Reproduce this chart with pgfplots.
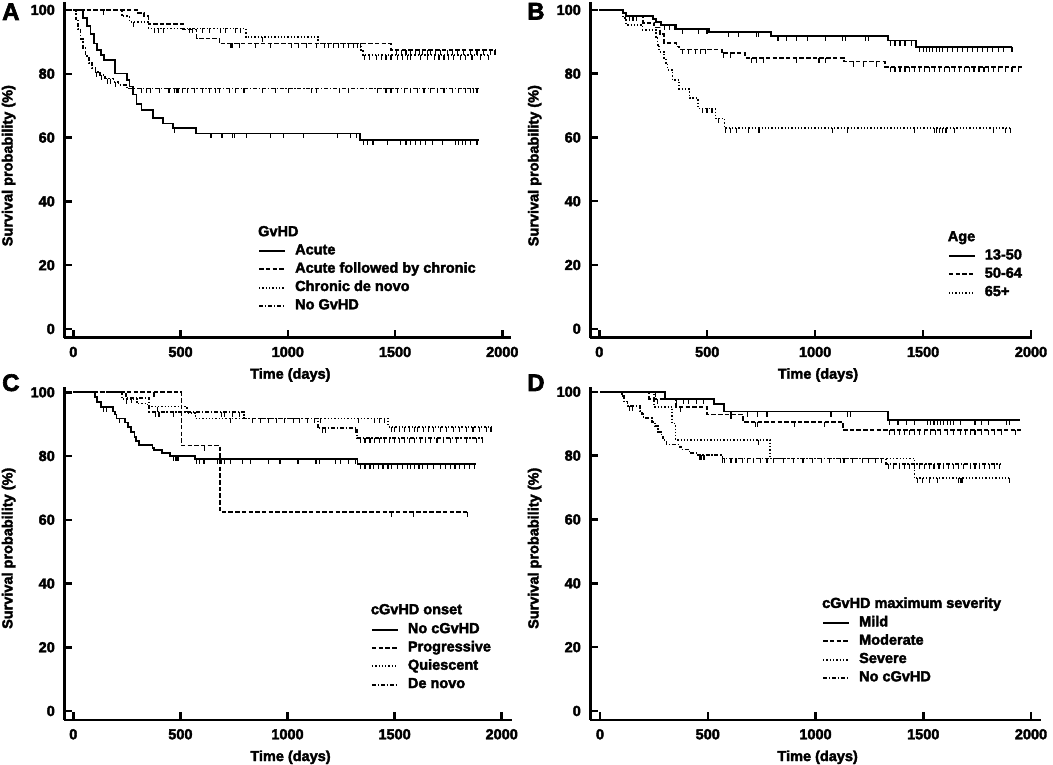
\documentclass[border=0pt]{standalone}
\usepackage{fontspec}
\setmainfont{Liberation Sans}[BoldFeatures={FakeBold=2.6}]
\usepackage{pgfplots}
\pgfplotsset{compat=1.18}
\pgfdeclareplotmark{cens}{\pgfpathmoveto{\pgfpoint{0pt}{0pt}}\pgfpathlineto{\pgfpoint{0pt}{-5pt}}\pgfusepathqstroke}
\newcommand\lf{\fontsize{14.5}{17}\selectfont\bfseries}
\pgfplotsset{
  km/.style={
    scale only axis, clip=false,
    axis x line=bottom, axis y line=left,
    axis line style={line width=2.8pt,-},
    tick align=inside, major tick length=8pt,
    every tick/.style={line width=2.5pt,black},
    xtick={0,500,1000,1500,2000}, ytick={0,20,40,60,80,100},
    /pgf/number format/assume math mode=true,
    /pgf/number format/1000 sep={},
    ticklabel style={font=\lf},
    xticklabel style={anchor=center,inner sep=0pt,yshift=-14.3pt},
    yticklabel style={anchor=east,inner sep=0pt,xshift=-9.3pt},
    label style={font=\lf},
    xlabel={Time (days)}, ylabel={Survival probability (\%)},
    legend cell align=left,
    legend style={draw=none,fill=none,font=\lf,anchor=north west,inner sep=0pt,
      row sep=4.8pt,nodes={inner sep=0pt,text height=10.5pt,text depth=3pt},
      /tikz/every odd column/.append style={column sep=9pt}},
    legend image code/.code={\draw[##1,line width=2pt] (0pt,-0.5pt) -- (26pt,-0.5pt);},
  },
  ks/.style={black,line width=1.8pt,const plot mark left},
  kd/.style={black,line width=1.7pt,dash pattern=on 4.5pt off 2.2pt,const plot mark left},
  kt/.style={black,line width=1.7pt,dash pattern=on 1.3pt off 2pt,const plot mark left},
  kdd/.style={black,line width=1.7pt,dash pattern=on 4pt off 1.8pt on 1.3pt off 1.8pt,const plot mark left},
  cm/.style={black,only marks,mark=cens,mark options={solid,line width=1.1pt},forget plot},
}
\begin{document}
\begin{tikzpicture}
\useasboundingbox (0,0) rectangle (1053pt,765pt);
\node[anchor=base west,font=\fontsize{24}{26}\selectfont\bfseries,inner sep=0pt] at (2pt,745pt) {A};
\node[anchor=base west,font=\fontsize{24}{26}\selectfont\bfseries,inner sep=0pt] at (527pt,745.5pt) {B};
\node[anchor=base west,font=\fontsize{24}{26}\selectfont\bfseries,inner sep=0pt] at (2pt,374pt) {C};
\node[anchor=base west,font=\fontsize{24}{26}\selectfont\bfseries,inner sep=0pt] at (527pt,374pt) {D};

% ---------------- A ----------------
\begin{axis}[km, at={(64.3pt,427.3pt)}, anchor=south west, width=446.7pt, height=335.7pt,
  xmin=-42, xmax=2040.6, ymin=-2.73, ymax=102.5,
  xlabel style={at={(axis description cs:0.506,0)},anchor=center,yshift=-37.3pt},
  ylabel style={at={(axis description cs:-0.1245,0.5124)},anchor=center},
  legend style={at={(axis description cs:0.4336,0.280)}}]
\addplot[ks] coordinates {(0,100)(46,97.5)(65,95)(80,92.5)(95,89.5)(110,87.5)(130,86)(142,84.3)(196,80.1)(250,78)(262,76)(280,73.5)(295,70.5)(318,68.6)(372,66.2)(418,64.4)(465,62.9)(573,61.3)(1335,59.2)(1890,59.2)};
\addlegendentry{Acute}
\addplot[kd] coordinates {(0,100)(296,99)(330,98)(350,95.6)(511,93.9)(575,91.1)(681,89.5)(1480,87.4)(1970,87.4)};
\addlegendentry{Acute followed by chronic}
\addplot[kt] coordinates {(0,100)(226,98)(262,96.3)(350,94.2)(804,91.6)(1140,89.5)(1340,87.4)(1350,85.9)(1936,85.9)};
\addlegendentry{Chronic de novo}
\addplot[kdd] coordinates {(0,100)(11,97)(22,94)(34,91)(46,88)(57,85.5)(72,83.3)(88,81.7)(103,80.6)(126,79.6)(149,78.5)(188,77.5)(211,76.4)(249,75.4)(1890,75.4)};
\addlegendentry{No GvHD}
\addplot[cm] coordinates {(473,62.9)(642,61.3)(693,61.3)(742,61.3)(750,61.3)(808,61.3)(919,61.3)(981,61.3)(1073,61.3)(1232,61.3)(1293,61.3)(1320,61.3)(1351,59.2)(1371,59.2)(1397,59.2)(1466,59.2)(1527,59.2)(1551,59.2)(1574,59.2)(1597,59.2)(1620,59.2)(1643,59.2)(1674,59.2)(1720,59.2)(1782,59.2)(1797,59.2)(1813,59.2)(1828,59.2)(1851,59.2)(1882,59.2)};
\addplot[cm] coordinates {(142,100)(735,89.5)(742,89.5)(773,89.5)(850,89.5)(919,89.5)(1019,89.5)(1050,89.5)(1089,89.5)(1135,89.5)(1340,89.5)(1505,87.4)(1528,87.4)(1551,87.4)(1574,87.4)(1597,87.4)(1613,87.4)(1628,87.4)(1651,87.4)(1666,87.4)(1690,87.4)(1713,87.4)(1743,87.4)(1766,87.4)(1790,87.4)(1820,87.4)(1851,87.4)(1882,87.4)(1913,87.4)(1943,87.4)(1966,87.4)};
\addplot[cm] coordinates {(280,96.3)(380,94.2)(396,94.2)(419,94.2)(542,94.2)(557,94.2)(604,94.2)(634,94.2)(688,94.2)(711,94.2)(758,94.2)(781,94.2)(881,91.6)(1173,89.5)(1189,89.5)(1212,89.5)(1235,89.5)(1258,89.5)(1281,89.5)(1305,89.5)(1327,89.5)(1358,85.9)(1381,85.9)(1412,85.9)(1435,85.9)(1458,85.9)(1481,85.9)(1512,85.9)(1535,85.9)(1558,85.9)(1574,85.9)(1620,85.9)(1651,85.9)(1682,85.9)(1705,85.9)(1728,85.9)(1751,85.9)(1774,85.9)(1805,85.9)(1828,85.9)(1859,85.9)(1897,85.9)(1936,85.9)};
\addplot[cm] coordinates {(110,80.6)(130,79.6)(160,78.5)(172,78.5)(195,77.5)(280,75.4)(319,75.4)(342,75.4)(360,75.4)(403,75.4)(446,75.4)(473,75.4)(480,75.4)(488,75.4)(511,75.4)(534,75.4)(565,75.4)(604,75.4)(634,75.4)(665,75.4)(681,75.4)(727,75.4)(758,75.4)(796,75.4)(881,75.4)(943,75.4)(1004,75.4)(1112,75.4)(1135,75.4)(1243,75.4)(1281,75.4)(1420,75.4)(1458,75.4)(1481,75.4)(1512,75.4)(1543,75.4)(1574,75.4)(1605,75.4)(1635,75.4)(1666,75.4)(1697,75.4)(1728,75.4)(1766,75.4)(1797,75.4)(1828,75.4)(1851,75.4)(1866,75.4)(1882,75.4)};
\node[anchor=base west,font=\lf,inner sep=0pt] at (axis description cs:0.4336,0.3024) {GvHD};
\end{axis}

% ---------------- B ----------------
\begin{axis}[km, at={(590.3pt,427.3pt)}, anchor=south west, width=441.7pt, height=335.7pt,
  xmin=-41.7, xmax=2004.6, ymin=-2.8, ymax=102.5,
  xlabel style={at={(axis description cs:0.5155,0)},anchor=center,yshift=-37.3pt},
  ylabel style={at={(axis description cs:-0.1259,0.5124)},anchor=center},
  legend style={at={(axis description cs:0.809,0.265)}}]
\addplot[ks] coordinates {(0,100)(110,99)(125,98.2)(247,97.1)(262,96.1)(286,95.3)(357,94)(507,93)(797,91.9)(1339,90.4)(1469,88.5)(1912,88.5)};
\addlegendentry{13-50}
\addplot[kd] coordinates {(0,100)(110,99)(125,98)(202,96)(255,94.5)(281,92.5)(301,89.7)(357,88.5)(370,87.6)(568,86.4)(675,85)(1133,83.8)(1324,82.2)(1958,82.2)};
\addlegendentry{50-64}
\addplot[kt] coordinates {(0,100)(110,97.5)(125,95.3)(200,93.7)(263,91.6)(270,89)(278,86.9)(300,84.9)(308,83.2)(316,81.2)(339,78)(370,75.1)(418,72.3)(457,69.1)(538,66)(580,62.9)(1904,62.9)};
\addlegendentry{65+}
\addplot[cm] coordinates {(140,98.2)(156,98.2)(171,98.2)(301,95.3)(324,95.3)(347,95.3)(385,94)(461,94)(499,94)(599,93)(644,93)(728,93)(736,93)(828,91.9)(866,91.9)(912,91.9)(965,91.9)(1049,91.9)(1125,91.9)(1141,91.9)(1232,91.9)(1248,91.9)(1347,90.4)(1370,90.4)(1393,90.4)(1416,90.4)(1446,90.4)(1484,88.5)(1500,88.5)(1515,88.5)(1530,88.5)(1545,88.5)(1561,88.5)(1576,88.5)(1591,88.5)(1614,88.5)(1637,88.5)(1660,88.5)(1683,88.5)(1706,88.5)(1729,88.5)(1751,88.5)(1774,88.5)(1797,88.5)(1820,88.5)(1851,88.5)(1874,88.5)(1912,88.5)};
\addplot[cm] coordinates {(385,87.6)(415,87.6)(446,87.6)(469,87.6)(492,87.6)(576,86.4)(606,86.4)(705,85)(728,85)(759,85)(912,85)(1018,85)(1049,85)(1179,83.8)(1225,83.8)(1286,83.8)(1347,82.2)(1370,82.2)(1393,82.2)(1416,82.2)(1438,82.2)(1461,82.2)(1484,82.2)(1507,82.2)(1530,82.2)(1553,82.2)(1576,82.2)(1599,82.2)(1622,82.2)(1645,82.2)(1668,82.2)(1690,82.2)(1713,82.2)(1736,82.2)(1759,82.2)(1782,82.2)(1805,82.2)(1828,82.2)(1851,82.2)(1881,82.2)(1912,82.2)(1942,82.2)};
\addplot[cm] coordinates {(476,69.1)(499,69.1)(522,69.1)(553,66)(583,62.9)(606,62.9)(637,62.9)(690,62.9)(736,62.9)(744,62.9)(1080,62.9)(1148,62.9)(1461,62.9)(1553,62.9)(1561,62.9)(1576,62.9)(1591,62.9)(1606,62.9)(1645,62.9)(1828,62.9)(1881,62.9)(1904,62.9)};
\node[anchor=base west,font=\lf,inner sep=0pt] at (axis description cs:0.809,0.2875) {Age};
\end{axis}

% ---------------- C ----------------
\begin{axis}[km, at={(64.3pt,45pt)}, anchor=south west, width=447.4pt, height=333pt,
  xmin=-42, xmax=2046.7, ymin=-2.82, ymax=101.66,
  xlabel style={at={(axis description cs:0.5056,0)},anchor=center,yshift=-37.3pt},
  ylabel style={at={(axis description cs:-0.1243,0.5156)},anchor=center},
  legend style={at={(axis description cs:0.685,0.293)}}]
\addplot[ks] coordinates {(0,100)(102,98.6)(110,97)(128,95.5)(186,94)(195,93)(202,91.8)(240,90.5)(255,89.2)(270,87.5)(286,85.9)(293,84.8)(308,83.5)(370,82.6)(377,81.9)(415,80.9)(453,80.1)(568,79.1)(1327,77.4)(1878,77.4)};
\addlegendentry{No cGvHD}
\addplot[kd] coordinates {(0,100)(505,83.3)(685,62.5)(1840,62.5)};
\addlegendentry{Progressive}
\addplot[kt] coordinates {(0,100)(226,98)(296,96.5)(347,95.5)(530,93.4)(570,91.8)(1469,89.2)(1958,89.2)};
\addlegendentry{Quiescent}
\addplot[kdd] coordinates {(0,100)(247,98.3)(355,93.9)(797,91.8)(1141,88.7)(1324,85.6)(1912,85.6)};
\addlegendentry{De novo}
\addplot[cm] coordinates {(140,95.5)(156,95.5)(217,91.8)(469,80.1)(476,80.1)(484,80.1)(492,80.1)(576,79.1)(591,79.1)(606,79.1)(614,79.1)(675,79.1)(690,79.1)(705,79.1)(736,79.1)(789,79.1)(828,79.1)(912,79.1)(965,79.1)(1049,79.1)(1133,79.1)(1148,79.1)(1225,79.1)(1248,79.1)(1286,79.1)(1316,79.1)(1339,77.4)(1362,77.4)(1385,77.4)(1400,77.4)(1423,77.4)(1446,77.4)(1469,77.4)(1484,77.4)(1515,77.4)(1538,77.4)(1561,77.4)(1576,77.4)(1591,77.4)(1614,77.4)(1629,77.4)(1652,77.4)(1683,77.4)(1713,77.4)(1736,77.4)(1759,77.4)(1782,77.4)(1805,77.4)(1828,77.4)(1851,77.4)(1874,77.4)};
\addplot[cm] coordinates {(377,100)(614,83.3)(1486,62.5)(1587,62.5)(1840,62.5)};
\addplot[cm] coordinates {(250,98)(392,95.5)(736,91.8)(835,91.8)(873,91.8)(912,91.8)(950,91.8)(988,91.8)(1026,91.8)(1057,91.8)(1095,91.8)(1125,91.8)(1156,91.8)(1332,91.8)(1408,91.8)(1431,91.8)(1454,91.8)(1484,89.2)(1500,89.2)(1522,89.2)(1545,89.2)(1568,89.2)(1591,89.2)(1606,89.2)(1637,89.2)(1660,89.2)(1683,89.2)(1713,89.2)(1744,89.2)(1774,89.2)(1805,89.2)(1835,89.2)(1866,89.2)(1897,89.2)(1927,89.2)(1950,89.2)};
\addplot[cm] coordinates {(270,98.3)(385,93.9)(400,93.9)(469,93.9)(690,93.9)(705,93.9)(744,93.9)(774,93.9)(1164,88.7)(1179,88.7)(1316,88.7)(1339,85.6)(1362,85.6)(1385,85.6)(1408,85.6)(1431,85.6)(1454,85.6)(1477,85.6)(1500,85.6)(1522,85.6)(1545,85.6)(1568,85.6)(1591,85.6)(1622,85.6)(1645,85.6)(1668,85.6)(1698,85.6)(1729,85.6)(1759,85.6)(1790,85.6)(1835,85.6)(1881,85.6)(1912,85.6)};
\node[anchor=base west,font=\lf,inner sep=0pt] at (axis description cs:0.685,0.3177) {cGvHD onset};
\end{axis}

% ---------------- D ----------------
\begin{axis}[km, at={(590.3pt,45pt)}, anchor=south west, width=450.7pt, height=333pt,
  xmin=-45, xmax=2046.4, ymin=-2.82, ymax=101.5,
  xlabel style={at={(axis description cs:0.5045,0)},anchor=center,yshift=-37.3pt},
  ylabel style={at={(axis description cs:-0.1234,0.5156)},anchor=center},
  legend style={at={(axis description cs:0.514,0.3132)}}]
\addplot[ks] coordinates {(0,100)(301,97.7)(530,96.2)(575,93.8)(1335,91.1)(1947,91.1)};
\addlegendentry{Mild}
\addplot[kd] coordinates {(0,100)(228,97.7)(353,95.3)(497,92.9)(664,90.6)(1128,88)(1955,88)};
\addlegendentry{Moderate}
\addplot[kt] coordinates {(0,100)(251,95.3)(335,90.1)(350,84.9)(790,79.1)(1459,72.9)(1900,72.9)};
\addlegendentry{Severe}
\addplot[kdd] coordinates {(0,100)(102,98.6)(110,97)(128,95.5)(186,94)(195,93)(202,91.8)(240,90.5)(255,89.2)(270,87.5)(286,85.9)(293,84.8)(308,83.5)(370,82.6)(377,81.9)(415,80.9)(453,80.1)(568,79.1)(1327,77.4)(1862,77.4)};
\addlegendentry{No cGvHD}
\addplot[cm] coordinates {(258,100)(357,97.7)(388,97.7)(410,97.7)(448,97.7)(479,97.7)(608,93.8)(684,93.8)(730,93.8)(775,93.8)(1072,93.8)(1148,93.8)(1163,93.8)(1345,91.1)(1383,91.1)(1421,91.1)(1459,91.1)(1520,91.1)(1535,91.1)(1550,91.1)(1566,91.1)(1581,91.1)(1596,91.1)(1611,91.1)(1626,91.1)(1642,91.1)(1672,91.1)(1740,91.1)(1771,91.1)(1801,91.1)(1885,91.1)(1900,91.1)};
\addplot[cm] coordinates {(266,97.7)(372,95.3)(608,92.9)(722,90.6)(730,90.6)(904,90.6)(1041,90.6)(1345,88)(1368,88)(1391,88)(1414,88)(1436,88)(1459,88)(1482,88)(1505,88)(1535,88)(1558,88)(1581,88)(1611,88)(1642,88)(1672,88)(1695,88)(1718,88)(1740,88)(1771,88)(1801,88)(1832,88)(1862,88)(1930,88)};
\addplot[cm] coordinates {(737,84.9)(1474,72.9)(1497,72.9)(1528,72.9)(1566,72.9)(1664,72.9)(1672,72.9)(1680,72.9)(1900,72.9)};
\addplot[cm] coordinates {(137,95.5)(152,95.5)(464,80.1)(472,80.1)(479,80.1)(486,80.1)(570,79.1)(578,79.1)(608,79.1)(631,79.1)(661,79.1)(684,79.1)(714,79.1)(745,79.1)(775,79.1)(806,79.1)(851,79.1)(897,79.1)(942,79.1)(988,79.1)(1026,79.1)(1064,79.1)(1117,79.1)(1132,79.1)(1170,79.1)(1216,79.1)(1246,79.1)(1277,79.1)(1307,79.1)(1338,77.4)(1360,77.4)(1391,77.4)(1414,77.4)(1436,77.4)(1459,77.4)(1482,77.4)(1505,77.4)(1528,77.4)(1550,77.4)(1573,77.4)(1596,77.4)(1619,77.4)(1642,77.4)(1664,77.4)(1687,77.4)(1718,77.4)(1740,77.4)(1763,77.4)(1786,77.4)(1809,77.4)(1832,77.4)(1854,77.4)};
\node[anchor=base west,font=\lf,inner sep=0pt] at (axis description cs:0.514,0.3366) {cGvHD maximum severity};
\end{axis}
\end{tikzpicture}
\end{document}
